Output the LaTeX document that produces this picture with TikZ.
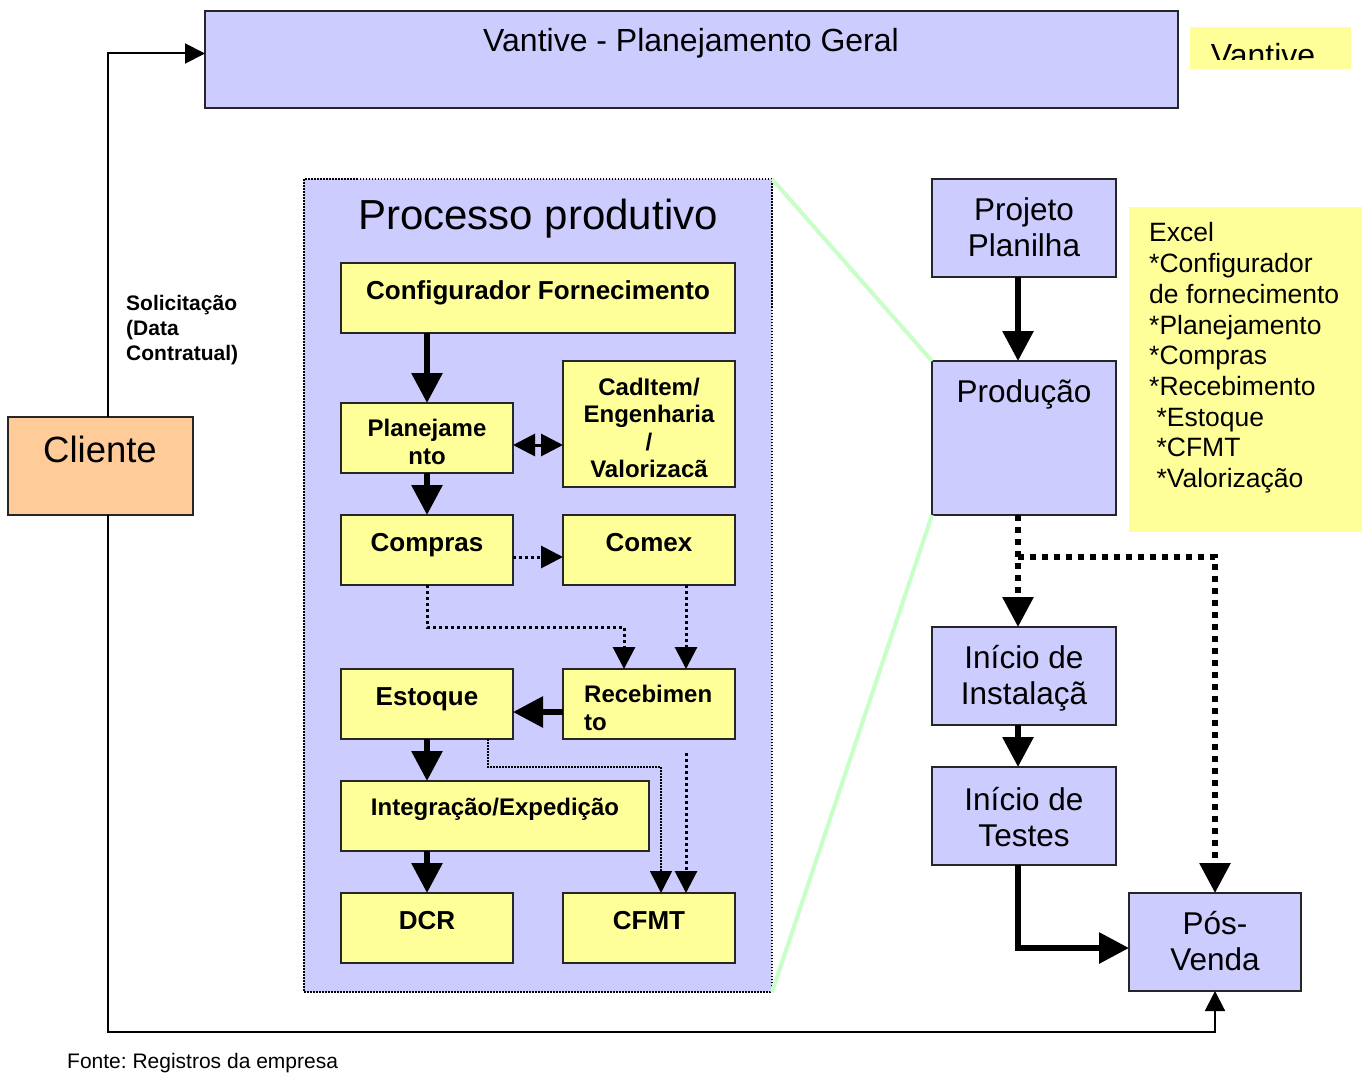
\documentclass[tikz,border=0pt]{standalone}
\usepackage{fontspec}
\setmainfont{Liberation Sans}
\usetikzlibrary{arrows.meta,calc}
\definecolor{lav}{HTML}{CCCCFF}
\definecolor{yel}{HTML}{FFFF99}
\definecolor{peach}{HTML}{FFCC99}
\definecolor{lgreen}{HTML}{C8FFC8}
\newcommand\fsTop{\fontsize{32}{38}\selectfont}
\newcommand\fsProc{\fontsize{42}{48}\selectfont}
\newcommand\fsBold{\fontsize{26}{29}\bfseries\selectfont}
\newcommand\fsBoldS{\fontsize{24}{27.5}\bfseries\selectfont}
\newcommand\fsRight{\fontsize{31.5}{36.5}\selectfont}
\newcommand\fsCli{\fontsize{36.5}{42}\selectfont}
\newcommand\fsExcel{\fontsize{26.5}{30.7}\selectfont}
\newcommand\fsSol{\fontsize{21}{25}\bfseries\selectfont}
\newcommand\fsFonte{\fontsize{21}{25}\selectfont}
\frenchspacing
\begin{document}
\begin{tikzpicture}[x=1pt,y=-1pt,
  basebox/.style={line width=1.5pt, draw=black!85, inner sep=0pt, outer sep=0pt, anchor=north west},
  lavbox/.style={basebox, fill=lav},
  ybox/.style={basebox, fill=yel},
  txt/.style={inner sep=0pt, align=center},
  thickarr/.style={line width=6pt, -{Triangle[width=30pt,length=30pt]}},
  thinarr/.style={line width=2pt, -{Triangle[width=20pt,length=20pt]}},
  meddot/.style={line width=3pt, dash pattern=on 3pt off 3pt, -{Triangle[width=22pt,length=22pt]}},
  thindot/.style={line width=1.5pt, dash pattern=on 1.5pt off 1.5pt, -{Triangle[width=22pt,length=22pt]}},
  bigdot/.style={line width=6pt, dash pattern=on 6pt off 6pt, -{Triangle[width=30pt,length=30pt]}},
  greenline/.style={line width=4pt, draw=lgreen}
]
\useasboundingbox (0,0) rectangle (1367,1073);
\fill[white] (0,0) rectangle (1367,1073);

% top
\node[lavbox, minimum width=973pt, minimum height=97pt] (top) at (205,11) {};
\node[txt, font=\fsTop] (topt) at (691,43) {Vantive - Planejamento Geral};
\node[basebox, draw=none, fill=yel, minimum width=161pt, minimum height=42pt] (vbox) at (1190,27) {};
\begin{scope}
  \clip (1190,25) rectangle (1351,60);
  \node[txt, font=\fsTop] (vboxt) at (1263,55) {Vantive};
\end{scope}

% process box
\node[basebox, fill=lav, draw=black, line width=1.5pt, dash pattern=on 1.5pt off 1.5pt, minimum width=468pt, minimum height=813pt] (proc) at (304,179) {};
\node[txt, font=\fsProc] (proct) at (538,219) {Processo produtivo};

\node[ybox, minimum width=394pt, minimum height=70pt] (conf) at (341,263) {};
\node[txt, font=\fsBold] (conft) at (538,293) {Configurador Fornecimento};
\node[ybox, minimum width=172pt, minimum height=70pt] (plan) at (341,403) {};
\node[txt, font=\fsBoldS] (plant) at (427,442) {Planejame\\nto};
\node[ybox, minimum width=172pt, minimum height=126pt] (cad) at (563,361) {};
\node[txt, font=\fsBoldS] (cadt) at (649,428) {CadItem/\\Engenharia\\/\\Valorizacã};
\node[ybox, minimum width=172pt, minimum height=70pt] (comp) at (341,515) {};
\node[txt, font=\fsBold] (compt) at (427,545) {Compras};
\node[ybox, minimum width=172pt, minimum height=70pt] (comex) at (563,515) {};
\node[txt, font=\fsBold] (comext) at (649,543) {Comex};
\node[ybox, minimum width=172pt, minimum height=70pt] (receb) at (563,669) {};
\node[txt, font=\fsBoldS, align=left, anchor=west] (recebt) at (584,708) {Recebimen\\to};
\node[ybox, minimum width=172pt, minimum height=70pt] (est) at (341,669) {};
\node[txt, font=\fsBold] (estt) at (427,699) {Estoque};
\node[ybox, minimum width=308pt, minimum height=70pt] (integ) at (341,781) {};
\node[txt, font=\fsBoldS] (integt) at (495,809) {Integração/Expedição};
\node[ybox, minimum width=172pt, minimum height=70pt] (dcr) at (341,893) {};
\node[txt, font=\fsBold] (dcrt) at (427,921) {DCR};
\node[ybox, minimum width=172pt, minimum height=70pt] (cfmt) at (563,893) {};
\node[txt, font=\fsBold] (cfmtt) at (649,921) {CFMT};

% right column
\node[lavbox, minimum width=184pt, minimum height=98pt] (proj) at (932,179) {};
\node[txt, font=\fsRight] (projt) at (1024,227) {Projeto\\Planilha};
\node[lavbox, minimum width=184pt, minimum height=154pt] (prod) at (932,361) {};
\node[txt, font=\fsRight] (prodt) at (1024,394) {Produção};
\node[lavbox, minimum width=184pt, minimum height=98pt] (inst) at (932,627) {};
\node[txt, font=\fsRight] (instt) at (1024,678) {Início de\\Instalaçã};
\node[lavbox, minimum width=184pt, minimum height=98pt] (test) at (932,767) {};
\node[txt, font=\fsRight] (testt) at (1024,817) {Início de\\Testes};
\node[lavbox, minimum width=172pt, minimum height=98pt] (pos) at (1129,893) {};
\node[txt, font=\fsRight] (post) at (1215,941) {Pós-\\Venda};

% excel note
\node[basebox, draw=none, fill=yel, minimum width=233pt, minimum height=325pt] (excel) at (1129,207) {};
\node[txt, font=\fsExcel, align=left, anchor=west] (excelt) at (1149,358) {Excel\\*Configurador\\de fornecimento\\*Planejamento\\*Compras\\*Recebimento\\\hspace*{0.278em}*Estoque\\\hspace*{0.278em}*CFMT\\\hspace*{0.278em}*Valorização};

% cliente
\node[basebox, fill=peach, minimum width=185pt, minimum height=98pt] (cli) at (8,417) {};
\node[txt, font=\fsCli] (clit) at (100,449) {Cliente};
\node[txt, font=\fsSol, align=left, anchor=west] (sol) at (126,330) {Solicitação\\(Data\\Contratual)};
\node[txt, font=\fsFonte, anchor=west] (fonte) at (67,1063) {Fonte: Registros da empresa};

% green lines
\draw[greenline] (proc.north east) -- (prod.north west);
\draw[greenline] (proc.south east) -- (prod.south west);

% helper coordinates
\coordinate (pe) at ($(plan.east)+(0,7)$);
\coordinate (ce) at ($(comp.east)+(0,7)$);
\coordinate (rw) at ($(receb.west)+(0,8)$);

% process connectors
\draw[thickarr] (conf.south -| plan) -- (plan.north);
\draw[line width=3pt, {Triangle[width=22pt,length=22pt]}-{Triangle[width=22pt,length=22pt]}] (pe) -- (pe -| cad.west);
\draw[thickarr] (plan.south) -- (comp.north);
\draw[meddot] (ce) -- (ce -| comex.west);
\draw[meddot] (comp.south) -- ++(0,42) -| ($(receb.north)+(-25,0)$);
\draw[meddot] ($(comex.south)+(37,0)$) -- ($(receb.north)+(37,0)$);
\draw[thickarr] (rw) -- (rw -| est.east);
\draw[thickarr] (est.south) -- (est.south |- integ.north);
\draw[thindot] ($(est.south)+(61,0)$) -- ++(0,28) -| ($(cfmt.north)+(12,0)$);
\draw[meddot] ($(receb.south)+(37,14)$) -- ($(cfmt.north)+(37,0)$);
\draw[thickarr] (integ.south -| dcr) -- (dcr.north);

% right connectors
\draw[thickarr] ($(proj.south)+(-6,0)$) -- ($(prod.north)+(-6,0)$);
\draw[bigdot] ($(prod.south)+(-6,0)$) -- ($(inst.north)+(-6,0)$);
\draw[bigdot] ($(prod.south)+(-6,42)$) -| (pos.north);
\draw[thickarr] ($(inst.south)+(-6,0)$) -- ($(test.north)+(-6,0)$);
\draw[thickarr] ($(test.south)+(-6,0)$) |- ($(pos.west)+(0,6)$);

% cliente connectors
\draw[thinarr] ($(cli.north)+(7,0)$) |- ($(top.west)+(0,-6)$);
\draw[thinarr] ($(cli.south)+(7,0)$) -- ++(0,517) -| (pos.south);
\end{tikzpicture}
\end{document}
